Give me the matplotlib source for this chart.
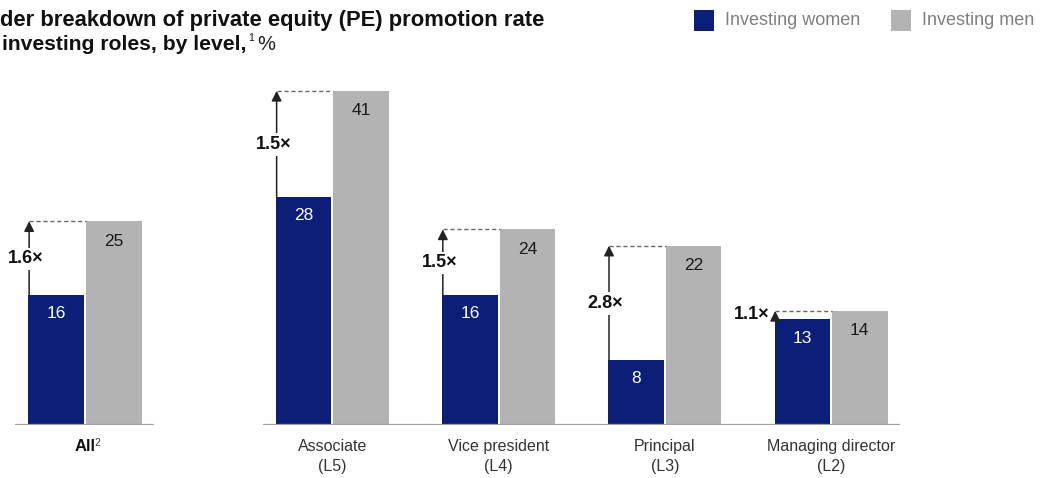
import matplotlib
matplotlib.use("Agg")
import matplotlib.pyplot as plt
from matplotlib.patches import Rectangle
import numpy as np

plt.rcParams['font.family'] = ['Liberation Sans', 'DejaVu Sans']

# ---- data ----
categories = ['Associate\n(L5)', 'Vice president\n(L4)', 'Principal\n(L3)', 'Managing director\n(L2)']
women = [28, 16, 8, 13]
men = [41, 24, 22, 14]
ratios = ['1.5×', '1.5×', '2.8×', '1.1×']
all_label = 'All'
all_women = [16]
all_men = [25]
all_ratio = ['1.6×']
series_names = ['Investing women', 'Investing men']
title_line1 = 'der breakdown of private equity (PE) promotion rate'
title_line2 = 'investing roles, by level,'

WOMEN_C = '#0B1F78'
MEN_C = '#B3B3B3'
BASE_C = '#A0A0A0'

W, H = 1048, 478
fig = plt.figure(figsize=(W / 100, H / 100), dpi=100)
renderer = fig.canvas.get_renderer()

def fx(p):
    return p / W

def fy(p):
    return 1 - p / H

YMAX = 45
unit_px = 8.15
ax_h = YMAX * unit_px / H

ax1 = fig.add_axes([fx(15), fy(425), 139 / W, ax_h])
ax2 = fig.add_axes([fx(263), fy(425), (900 - 263) / W, ax_h])
ax1.set_xlim(-0.421, 0.415)
ax2.set_xlim(-0.418, 3.415)

BW = 0.334
OFF = 0.173


def draw(ax, xs, wv, mv, rv, left_label_idx=()):
    xs = np.asarray(xs, dtype=float)
    ax.bar(xs - OFF, wv, width=BW, color=WOMEN_C, linewidth=0, zorder=2)
    ax.bar(xs + OFF, mv, width=BW, color=MEN_C, linewidth=0, zorder=2)
    ax.set_ylim(0, YMAX)
    ax.axhline(0, color=BASE_C, lw=1.6, zorder=3)
    for s in ax.spines.values():
        s.set_visible(False)
    ax.set_yticks([])
    for i, (x, w, m, r) in enumerate(zip(xs, wv, mv, rv)):
        ax.text(x - OFF, w - 2.35, str(w), color='white', ha='center', va='center',
                fontsize=12.5, zorder=4)
        ax.text(x + OFF, m - 2.45, str(m), color='#1a1a1a', ha='center', va='center',
                fontsize=12.5, zorder=4)
        xa = x - OFF - BW / 2 + 0.004
        xm = x + OFF - BW / 2
        ax.plot([xa, xm], [m, m], color='#666666', lw=1.0, ls=(0, (3, 2)), zorder=3)
        ax.annotate('', xy=(xa, m), xytext=(xa, w),
                    arrowprops=dict(arrowstyle='-|>,head_length=0.6,head_width=0.3',
                                    color='#222222', lw=1.1, shrinkA=0, shrinkB=0),
                    zorder=3)
        if i in left_label_idx:
            ax.text(xa - 0.035, (w + m) / 2 + 0.1, r, ha='right', va='center',
                    fontsize=13, fontweight='bold', color='#111111', zorder=5)
        else:
            ax.text(xa - 0.02, (w + m) / 2 - 0.1, r, ha='center', va='center',
                    fontsize=13, fontweight='bold', color='#111111', zorder=5,
                    bbox=dict(facecolor='white', edgecolor='none', pad=2.0))


draw(ax1, [0], all_women, all_men, all_ratio)
draw(ax2, np.arange(len(categories)), women, men, ratios, left_label_idx=(3,))

ax2.set_xticks(np.arange(len(categories)))
ax2.set_xticklabels(categories, fontsize=11.5, color='#333333', linespacing=1.45)
ax2.tick_params(axis='x', length=0, pad=10)

ax1.set_xticks([0])
ax1.set_xticklabels([all_label], fontsize=12, fontweight='bold', color='#111111')
ax1.tick_params(axis='x', length=0, pad=10)

fig.canvas.draw()
bb = ax1.get_xticklabels()[0].get_window_extent(renderer)
fig.text((bb.x1 - 1) / W, (bb.y1 - 9) / H, '2', fontsize=7.5, color='#333333',
         ha='left', va='bottom')

# ---- title ----
t1 = fig.text(fx(0), fy(26), title_line1, ha='left', va='baseline', fontsize=15,
              fontweight='bold', color='#111111')
w1 = t1.get_window_extent(renderer).width
t1.set_fontsize(15 * 547 / w1)
t2 = fig.text(fx(2), fy(49.5), title_line2, ha='left', va='baseline',
              fontsize=15, fontweight='bold', color='#111111')
w2 = t2.get_window_extent(renderer).width
t2.set_fontsize(15 * 246 / w2)
bb2 = t2.get_window_extent(renderer)
fig.text((bb2.x1 + 2) / W, fy(41), '1', ha='left', va='baseline', fontsize=7.5,
         color='#111111')
fig.text((bb2.x1 + 11) / W, fy(49.5), '%', ha='left', va='baseline', fontsize=14.5,
         color='#222222')

# ---- legend ----
fig.add_artist(Rectangle((fx(694), fy(31)), 20 / W, 21 / H, transform=fig.transFigure,
                         facecolor=WOMEN_C, edgecolor='none'))
fig.text(fx(725), fy(20.5), series_names[0], ha='left', va='center', fontsize=13,
         color='#7f7f7f')
fig.add_artist(Rectangle((fx(891), fy(31)), 20 / W, 21 / H, transform=fig.transFigure,
                         facecolor=MEN_C, edgecolor='none'))
fig.text(fx(922), fy(20.5), series_names[1], ha='left', va='center', fontsize=13,
         color='#7f7f7f')

fig.savefig('out.png', dpi=100)
